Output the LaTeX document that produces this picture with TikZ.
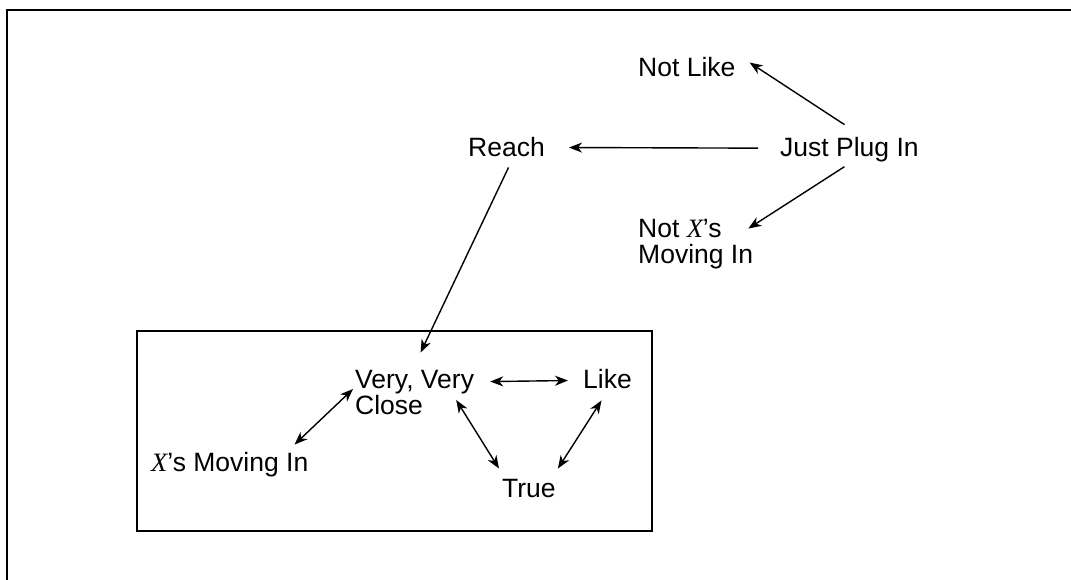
\documentclass[tikz,border=0pt]{standalone}
\usepackage{fontspec}
\setmainfont{Liberation Sans}
\newfontfamily\xfont{Liberation Serif}
\usetikzlibrary{arrows.meta}
\newcommand{\vX}{{\xfont\itshape X}}

\begin{document}
\begin{tikzpicture}[
                    x=1pt, y=-1pt,
                    >={Stealth[length=13pt,width=10pt,inset=4pt]},
                    every node/.style={inner sep=0pt, font=\fontsize{26.5}{26}\selectfont},
                    lbl/.style={anchor=base west, align=left},
                    link/.style={line width=1.4pt}
                    ]

                    \useasboundingbox (0,0) rectangle (1071,580);
                    \clip (0,0) rectangle (1071,580);
                    \draw[line width=1.6pt] (7,10) rectangle (1100,620);
                    \draw[line width=2.6pt] (137,331) rectangle (652,531);

                    % multi-line labels sit on their last line
                    \node[lbl] (notlike) at (638,77) {Not Like};
                    \node[lbl] (plug) at (780,157) {Just Plug In};
                    \node[lbl] (reach) at (468,157) {Reach};
                    \node[lbl] (notx) at (638,263) {Not \vX's\\Moving In};
                    \node[lbl] (close) at (355,414) {Very, Very\\Close};
                    \node[lbl] (like) at (583,388) {Like};
                    \node[lbl] (xmove) at (151,471) {\vX's Moving In};
                    \node[lbl] (true) at (502,497) {True};

                    \draw[link,->] ([shift={(-5,-13)}]plug.north) -- ([shift={(14,-5)}]notlike.east);
                    \draw[link,->] ([shift={(-22,-2)}]plug.west) -- ([shift={(24,0)}]reach.east);
                    \draw[link,->] ([shift={(-5,4)}]plug.south) -- ([shift={(-5,10)}]notx.north east);
                    \draw[link,->] ([shift={(2,10)}]reach.south) -- ([shift={(6,-17)}]close.north);
                    \draw[link,<->] ([shift={(16,12)}]close.north east) -- ([shift={(-15,2)}]like.west);
                    \draw[link,<->] ([shift={(-14,-7)}]xmove.north east) -- ([shift={(-2,-3)}]close.west);
                    \draw[link,<->] ([shift={(-18,8)}]close.east) -- ([shift={(-3,-10)}]true.north west);
                    \draw[link,<->] ([shift={(-6,12)}]like.south) -- ([shift={(2,-10)}]true.north east);
\end{tikzpicture}
\end{document}
